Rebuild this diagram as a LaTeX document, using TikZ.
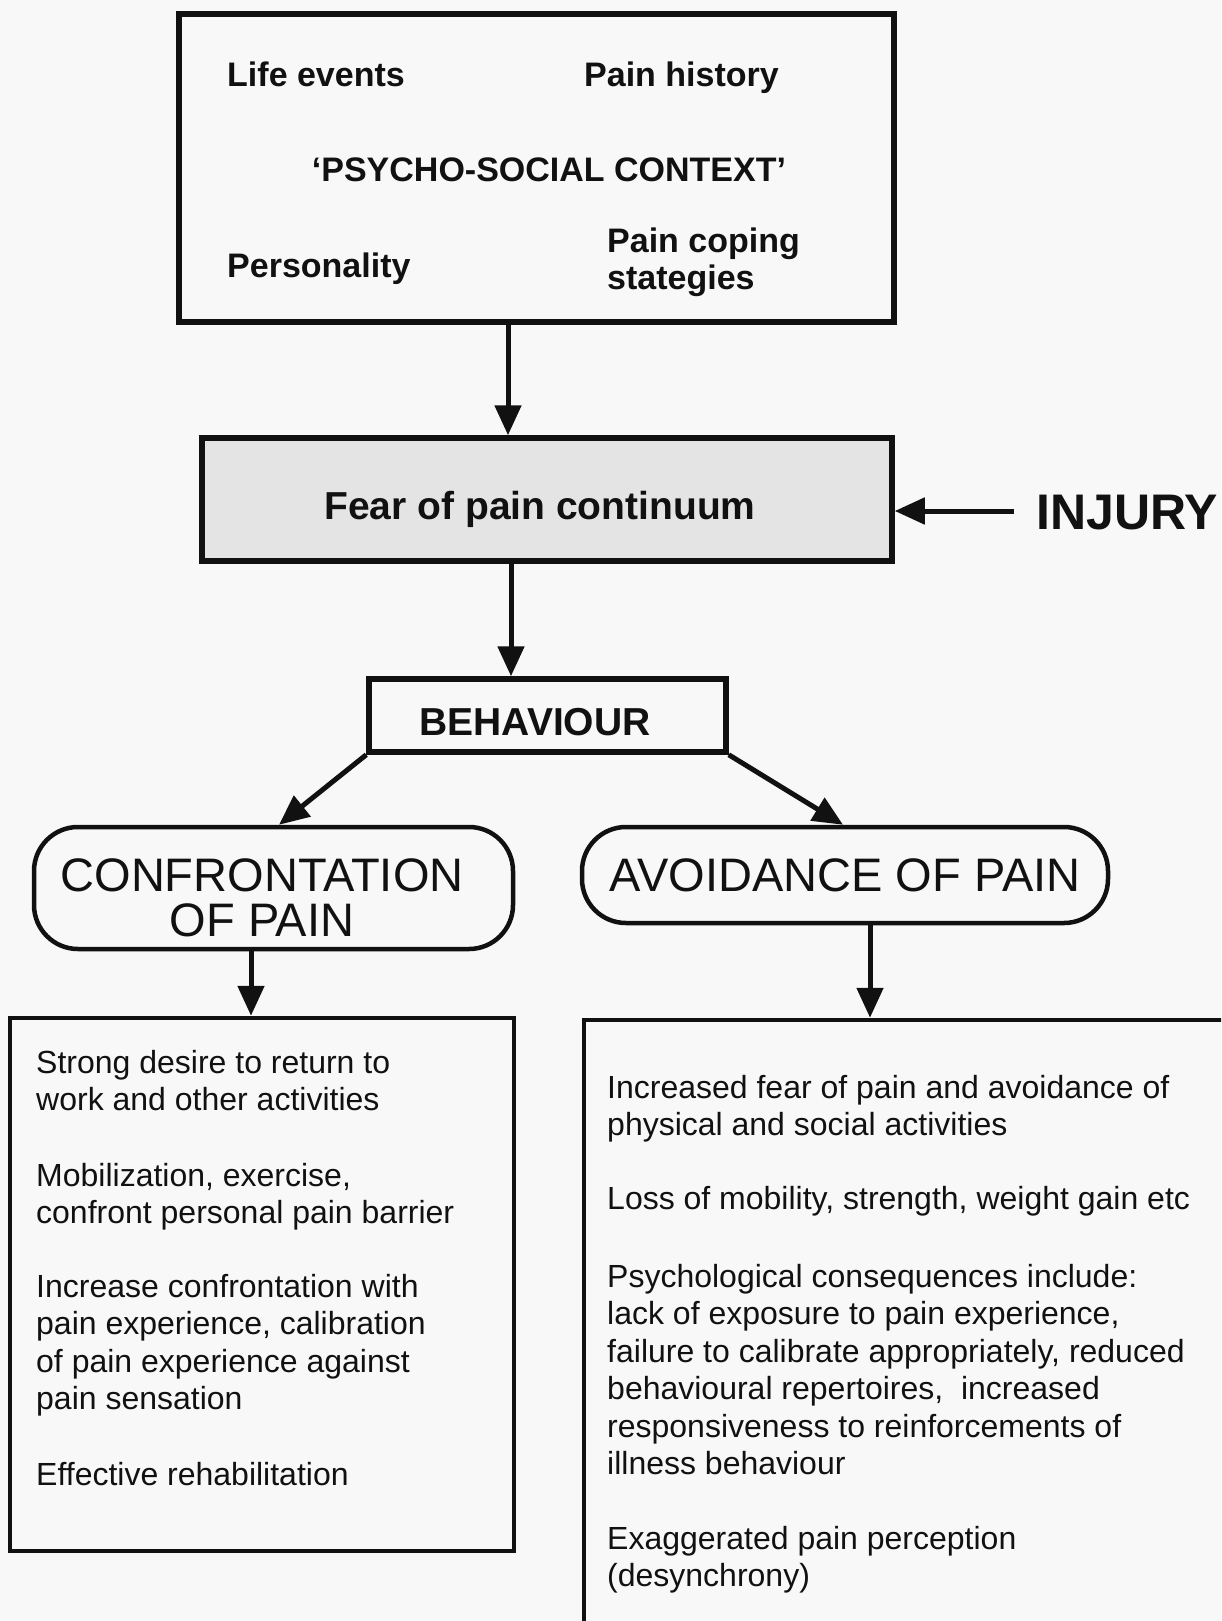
\documentclass[tikz,border=0pt]{standalone}
\usepackage{fontspec}
\setmainfont{Liberation Sans}
\usetikzlibrary{arrows.meta}
\definecolor{ink}{HTML}{111111}
\definecolor{paper}{HTML}{F8F8F8}
\definecolor{stipple}{HTML}{E4E4E4}
\begin{document}
\begin{tikzpicture}[x=1pt,y=-1pt,
  frame/.style={draw=ink, line width=5.5pt, rectangle, inner sep=0pt},
  pill/.style={frame, line width=4.5pt, rounded corners=44pt},
  arr/.style={draw=ink, line width=5pt, -{Triangle[length=30pt,width=26pt]}},
  head/.style={font=\fontsize{34}{36}\selectfont\bfseries, inner sep=0pt, text=ink},
  mid/.style={font=\fontsize{39}{42}\selectfont\bfseries, inner sep=0pt, text=ink},
  big/.style={font=\fontsize{47}{45}\selectfont, inner sep=0pt, text=ink},
  body/.style={font=\fontsize{32}{37.5}\selectfont, inner sep=0pt, text=ink, align=left, anchor=base west}
]
\clip (0,0) rectangle (1221,1621);
\fill[paper] (0,0) rectangle (1221,1621);

% boxes
\node[frame, minimum width=715pt, minimum height=308pt] (ctx) at (536.5,168) {};
\node[frame, fill=stipple, minimum width=690pt, minimum height=123pt] (fear) at (547,499.5) {};
\node[frame, minimum width=357pt, minimum height=73pt] (beh) at (547.5,715.5) {};
\node[pill, minimum width=479pt, minimum height=122pt] (conf) at (273.5,888) {};
\node[pill, minimum width=526pt, minimum height=96pt] (avoid) at (845,875) {};
\node[frame, line width=4.5pt, minimum width=504pt, minimum height=533pt] (lres) at (262,1284.5) {};
\node[frame, line width=4.5pt, minimum width=680pt, minimum height=640pt] (rres) at (924,1340) {};

% psycho-social context (multi-line nodes sit on their last baseline)
\node[head, anchor=base west] (life) at (227,87) {Life events};
\node[head, anchor=base west] (hist) at (584,87) {Pain history};
\node[head, anchor=base] (psc) at (549,182) {‘PSYCHO-SOCIAL CONTEXT’};
\node[head, anchor=base west] (pers) at (227,277) {Personality};
\node[head, anchor=base west, align=left] (cope) at (607,289) {Pain coping\\stategies};

% central chain
\node[mid, anchor=base] (feart) at (540,519) {Fear of pain continuum};
\node[mid, anchor=base] (beht) at (535,735) {BEHAVIOUR};
\node[font=\fontsize{50}{50}\selectfont\bfseries, inner sep=0pt, text=ink, anchor=base west] (inj) at (1036,529) {INJURY};

\node[big, anchor=base, align=center] (conft) at (262,936) {CONFRONTATION\\OF PAIN};
\node[big, anchor=base] (avoidt) at (845,891) {AVOIDANCE OF PAIN};

% outcomes
\node[body] (l1) at (36,1110.5) {Strong desire to return to\\work and other activities};
\node[body] (l2) at (36,1223.5) {Mobilization, exercise,\\confront personal pain barrier};
\node[body] (l3) at (36,1409.5) {Increase confrontation with\\pain experience, calibration\\of pain experience against\\pain sensation};
\node[body] (l4) at (36,1485) {Effective rehabilitation};

\node[body] (r1) at (607,1135.5) {Increased fear of pain and avoidance of\\physical and social activities};
\node[body] (r2) at (607,1209) {Loss of mobility, strength, weight gain etc};
\node[body] (r3) at (607,1474.5) {Psychological consequences include:\\lack of exposure to pain experience,\\failure to calibrate appropriately, reduced\\behavioural repertoires,\ \ increased\\responsiveness to reinforcements of\\illness behaviour};
\node[body] (r4) at (607,1586.5) {Exaggerated pain perception\\(desynchrony)};

% connector columns and rows
\coordinate (c1) at (508,0);
\coordinate (c2) at (511,0);
\coordinate (c3) at (251,0);
\coordinate (c4) at (870,0);
\coordinate (c5) at (279,0);
\coordinate (c6) at (843,0);
\coordinate (r7) at (0,511);

% connectors
\draw[arr] (ctx.south -| c1) -- (fear.north -| c1);
\draw[arr] (fear.south -| c2) -- (beh.north -| c2);
\draw[arr] ([xshift=-22pt]inj.west |- r7) -- (fear.east |- r7);
\draw[arr] (beh.south west) -- (conf.north -| c5);
\draw[arr] (beh.south east) -- (avoid.north -| c6);
\draw[arr] (conf.south -| c3) -- (lres.north -| c3);
\draw[arr] (avoid.south -| c4) -- (rres.north -| c4);
\end{tikzpicture}
\end{document}
